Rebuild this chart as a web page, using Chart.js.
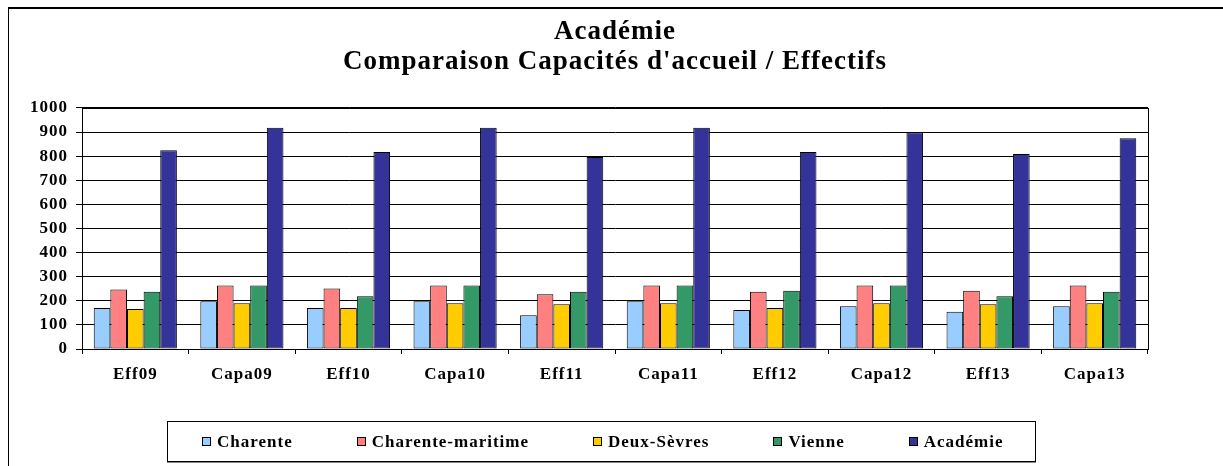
<!DOCTYPE html>
<html>
<head>
<meta charset="utf-8">
<script src="https://cdn.jsdelivr.net/npm/chart.js@4"></script>
<style>
  body { margin: 0; background: #fff; }
  #frame { position: absolute; left: 8px; top: 7px; width: 1300px; height: 500px; border-left: 1px solid #000; border-top: 2px solid #000; }
  #wrap { position: absolute; left: 0; top: 0; width: 1223px; height: 466px; }
  #legend {
    position: absolute; left: 167px; top: 421px; width: 869px; height: 41px;
    border: 1px solid #000; box-shadow: 0 1px 0 #888; background: #fff;
    display: flex; align-items: center; gap: 64px; padding-left: 34px; box-sizing: border-box;
    font-family: 'Liberation Serif', 'Times New Roman', serif; font-weight: bold; font-size: 17px;
    letter-spacing: 1px; color: #000;
  }
  #legend .item { display: flex; align-items: center; white-space: nowrap; }
  #legend .sw { width: 9px; height: 9px; border: 1px solid #000; box-sizing: border-box; margin-right: 6px; }
</style>
</head>
<body>
<div id="frame"></div>
<div id="wrap"><canvas id="chart"></canvas></div>
<div id="legend"></div>
<script>
const categories = ['Eff09', 'Capa09', 'Eff10', 'Capa10', 'Eff11', 'Capa11', 'Eff12', 'Capa12', 'Eff13', 'Capa13'];

const charente = [170, 198, 170, 198, 140, 198, 162, 177, 155, 177];
const charenteMaritime = [247, 263, 251, 263, 227, 263, 238, 263, 242, 263];
const deuxSevres = [166, 190, 170, 190, 186, 190, 170, 190, 186, 190];
const vienne = [238, 263, 219, 263, 238, 263, 242, 263, 219, 238];
const academie = [824, 918, 817, 918, 796, 918, 817, 899, 809, 874];

const yTicks = [0, 100, 200, 300, 400, 500, 600, 700, 800, 900, 1000];

const serif = "'Liberation Serif', 'Times New Roman', serif";

function serie(label, data, color) {
  return {
    label: label,
    data: data,
    backgroundColor: color,
    borderColor: '#000',
    borderWidth: 1,
    borderSkipped: false,
    barPercentage: 1.0,
    categoryPercentage: 0.78
  };
}

// le texte du graphique d'origine est un peu étiré
const spacing = {
  id: 'spacing',
  beforeUpdate(chart) { chart.ctx.letterSpacing = '1px'; },
  beforeDraw(chart) { chart.ctx.letterSpacing = '1px'; }
};

// cadre de la zone de tracé
const plotFrame = {
  id: 'plotFrame',
  afterDraw(chart) {
    const ctx = chart.ctx;
    const a = chart.chartArea;
    ctx.save();
    ctx.strokeStyle = '#000';
    ctx.lineWidth = 1;
    ctx.strokeRect(Math.round(a.left) + 0.5, Math.round(a.top) + 0.5, Math.round(a.right - a.left), Math.round(a.bottom - a.top));
    ctx.restore();
  }
};

// légende HTML encadrée
const htmlLegend = {
  id: 'htmlLegend',
  afterUpdate(chart) {
    const box = document.getElementById('legend');
    box.innerHTML = '';
    chart.data.datasets.forEach((ds) => {
      const item = document.createElement('div');
      item.className = 'item';
      const sw = document.createElement('span');
      sw.className = 'sw';
      sw.style.background = ds.backgroundColor;
      const txt = document.createElement('span');
      txt.textContent = ds.label;
      item.appendChild(sw);
      item.appendChild(txt);
      box.appendChild(item);
    });
  }
};

new Chart(document.getElementById('chart'), {
  type: 'bar',
  data: {
    labels: categories,
    datasets: [
      serie('Charente', charente, '#99CCFF'),
      serie('Charente-maritime', charenteMaritime, '#FF8080'),
      serie('Deux-Sèvres', deuxSevres, '#FFCC00'),
      serie('Vienne', vienne, '#339966'),
      serie('Académie', academie, '#333399')
    ]
  },
  plugins: [spacing, plotFrame, htmlLegend],
  options: {
    responsive: true,
    maintainAspectRatio: false,
    animation: false,
    layout: { padding: { left: 0, right: 75, top: 0, bottom: 0 } },
    scales: {
      x: {
        afterFit: (s) => { s.height = 117; },
        grid: { offset: true, drawOnChartArea: false, drawTicks: true, tickLength: 5, color: '#000' },
        border: { display: true, color: '#000' },
        ticks: { color: '#000', font: { family: serif, size: 17, weight: 'bold' }, padding: 10, maxRotation: 0 }
      },
      y: {
        min: 0,
        max: 1000,
        afterFit: (s) => { s.width = 82; },
        afterBuildTicks: (s) => { s.ticks = yTicks.map(v => ({ value: v })); },
        grid: { color: '#000', tickLength: 6, lineWidth: 1 },
        border: { display: true, color: '#000' },
        ticks: {
          color: '#000',
          font: { family: serif, size: 17, weight: 'bold' },
          padding: 8,
          callback: (v) => String(v)
        }
      }
    },
    plugins: {
      title: {
        display: true,
        fullSize: false,
        text: ['Académie', "Comparaison Capacités d'accueil / Effectifs"],
        color: '#000',
        font: { family: serif, size: 27, weight: 'bold', lineHeight: 1.11 },
        padding: { top: 17, bottom: 31 }
      },
      legend: { display: false },
      tooltip: { enabled: false }
    }
  }
});
</script>
</body>
</html>
